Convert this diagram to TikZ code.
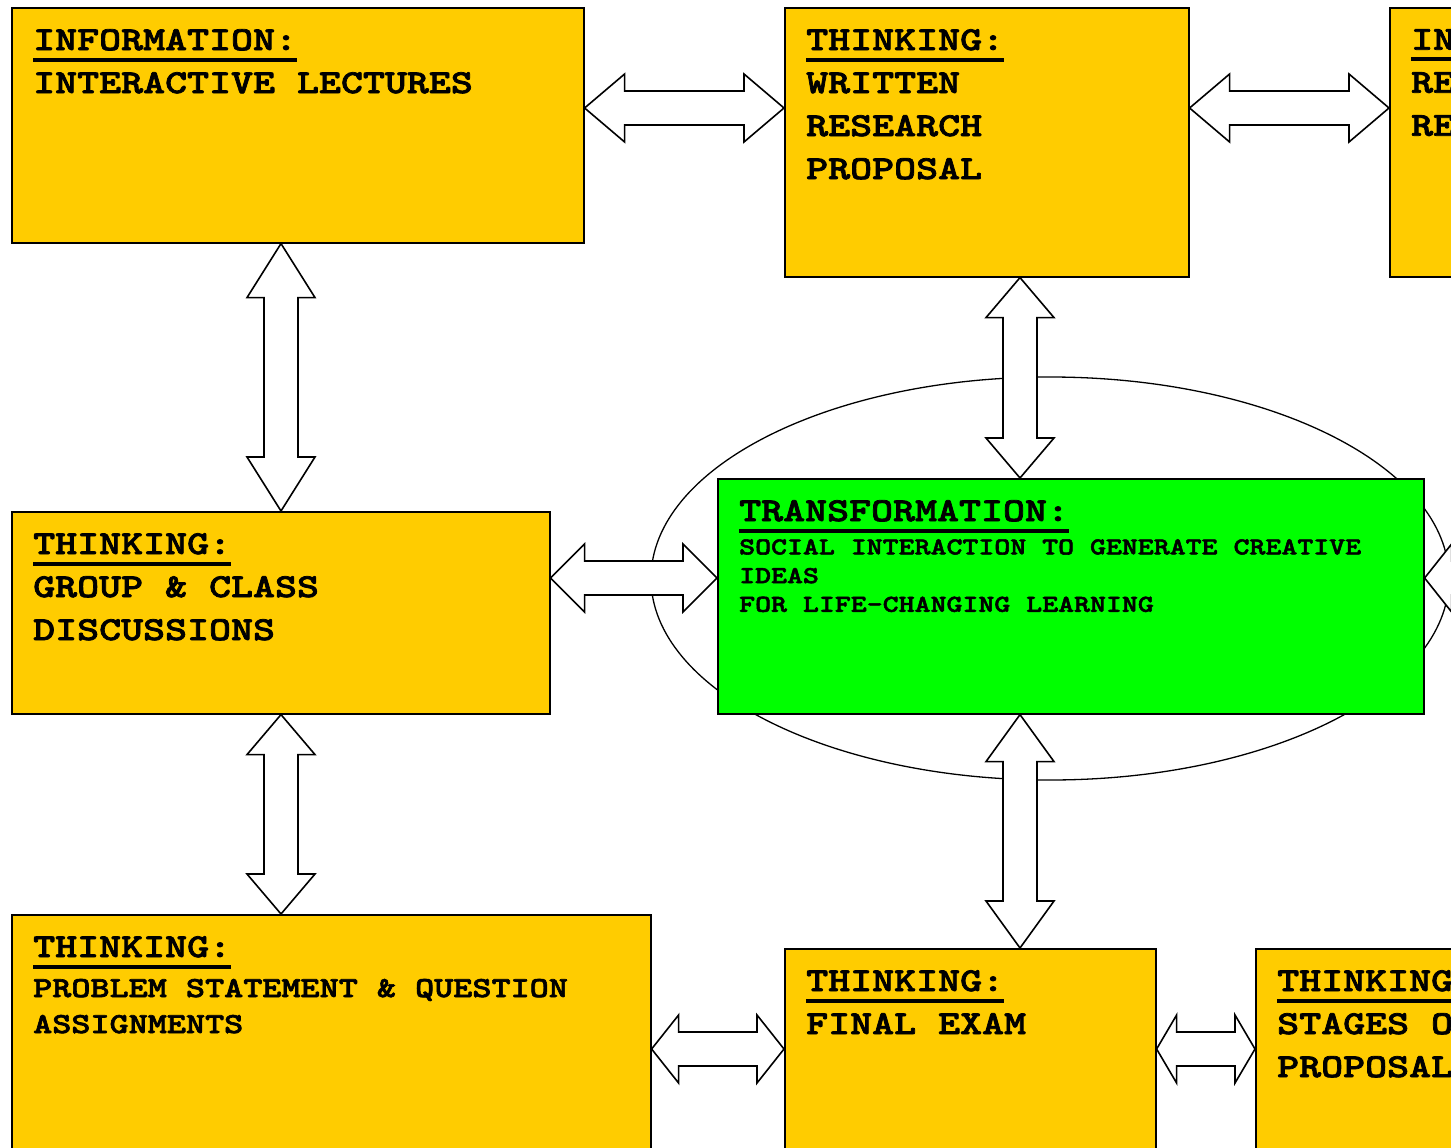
\documentclass[tikz,border=0pt]{standalone}
\usepackage{fontspec}
\newfontfamily\cour{lmmonolt10-bold.otf}[FakeStretch=1.25, FakeBold=2.2]
\usetikzlibrary{calc, shapes.geometric}

\definecolor{boxyellow}{HTML}{FFCC00}
\definecolor{boxgreen}{HTML}{00FF00}

\newcommand{\bigtext}{\cour\fontsize{33.5}{43}\selectfont}
\newcommand{\midtext}{\cour\fontsize{29.1}{36}\selectfont}
\newcommand{\smalltext}{\cour\fontsize{24.3}{28.7}\selectfont}
% thick rule under a heading
\newcommand{\ttl}[1]{\setbox0\hbox{#1}\rlap{\vrule width\wd0 height-7.5pt depth11.5pt}\box0}

% block arrow between two boxes, side by side: left, right, y, head length
\newcommand{\harr}[4]{%
  \draw[fatarrow] let \p1=(#1.east |- 0,#3), \p2=(#2.west |- 0,#3) in
    (\p1) -- (\x1+#4pt,\y1+34pt) -- (\x1+#4pt,\y1+17pt) -- (\x2-#4pt,\y1+17pt)
    -- (\x2-#4pt,\y1+34pt) -- (\p2) -- (\x2-#4pt,\y1-34pt) -- (\x2-#4pt,\y1-17pt)
    -- (\x1+#4pt,\y1-17pt) -- (\x1+#4pt,\y1-34pt) -- cycle;}
% block arrow between two boxes, one above the other: top, bottom, x, head length
\newcommand{\varr}[4]{%
  \draw[fatarrow] let \p1=(#1.south -| #3,0), \p2=(#2.north -| #3,0) in
    (\p1) -- (\x1+34pt,\y1-#4pt) -- (\x1+17pt,\y1-#4pt) -- (\x1+17pt,\y2+#4pt)
    -- (\x1+34pt,\y2+#4pt) -- (\p2) -- (\x1-34pt,\y2+#4pt) -- (\x1-17pt,\y2+#4pt)
    -- (\x1-17pt,\y1-#4pt) -- (\x1-34pt,\y1-#4pt) -- cycle;}

\begin{document}
\begin{tikzpicture}[x=1pt, y=-1pt,
    ybox/.style={draw, fill=boxyellow, line width=1.6pt, anchor=north west, inner sep=0pt},
    gbox/.style={ybox, fill=boxgreen},
    txt/.style={anchor=north west, xshift=22pt, yshift=-22pt, inner sep=0pt, align=left, font=\bigtext},
    fatarrow/.style={draw, fill=white, line width=1.6pt, line join=miter},
    ring/.style={draw, ellipse, line width=1.3pt, inner sep=0pt}]
    \useasboundingbox (0,0) rectangle (1451,1148);
    \clip (0,0) rectangle (1451,1148);

    \node[ring, minimum width=798pt, minimum height=403pt] (ring) at (1050,578.5) {};

    \node[ybox, minimum width=572pt, minimum height=235pt,
        label={[txt, name=info-t]north west:\ttl{INFORMATION:}\\INTERACTIVE LECTURES}] (info) at (11,7) {};
    \node[ybox, minimum width=404pt, minimum height=269pt,
        label={[txt, name=written-t]north west:\ttl{THINKING:}\\WRITTEN\\RESEARCH\\PROPOSAL}] (written) at (784,7) {};
    \node[ybox, minimum width=404pt, minimum height=269pt,
        label={[txt, name=edge-t]north west:\ttl{IN}\\RE\\RE}] (edge) at (1389,7) {};
    \node[ybox, minimum width=538pt, minimum height=202pt,
        label={[txt, name=group-t]north west:\ttl{THINKING:}\\GROUP \& CLASS\\DISCUSSIONS}] (group) at (11,511) {};
    \node[gbox, minimum width=706pt, minimum height=235pt,
        label={[txt, font=\smalltext, name=trans-t]north west:{\bigtext\ttl{TRANSFORMATION:}}\\[4.6pt]
            SOCIAL INTERACTION TO GENERATE CREATIVE\\IDEAS\\FOR LIFE-CHANGING LEARNING}] (trans) at (717,478) {};
    \node[ybox, minimum width=639pt, minimum height=300pt,
        label={[txt, font=\midtext, name=problem-t]north west:{\bigtext\ttl{THINKING:}}\\[4pt]
            PROBLEM STATEMENT \& QUESTION\\ASSIGNMENTS}] (problem) at (11,914) {};
    \node[ybox, minimum width=371pt, minimum height=300pt,
        label={[txt, name=final-t]north west:\ttl{THINKING:}\\FINAL EXAM}] (final) at (784,948) {};
    \node[ybox, minimum width=404pt, minimum height=300pt,
        label={[txt, name=stages-t]north west:\ttl{THINKING:}\\STAGES OF\\PROPOSAL}] (stages) at (1255,948) {};
    \coordinate (offright) at (1560,578);

    \harr{info}{written}{108}{40}
    \harr{written}{edge}{108}{40}
    \harr{group}{trans}{578}{34}
    \harr{trans}{offright}{578}{27}
    \harr{problem}{final}{1049}{27}
    \harr{final}{stages}{1049}{20}
    \varr{info}{group}{281}{54}
    \varr{group}{problem}{281}{40}
    \varr{written}{trans}{1020}{40}
    \varr{trans}{final}{1020}{47}
\end{tikzpicture}
\end{document}
